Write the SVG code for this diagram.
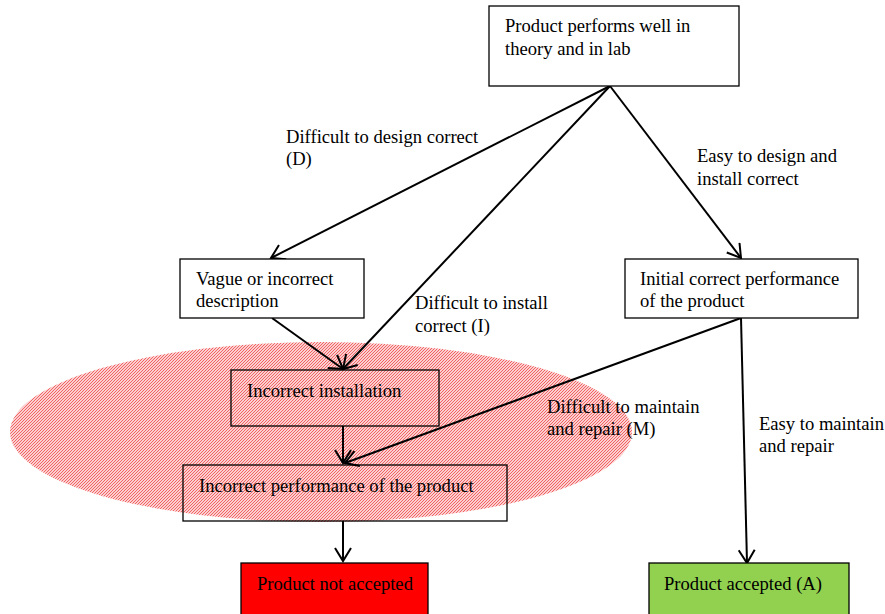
<svg xmlns="http://www.w3.org/2000/svg" width="885" height="614" viewBox="0 0 885 614">
<style>
text{font-family:"Liberation Serif","Times New Roman",serif;font-size:18.6px;fill:#000}
.box{fill:#fff;stroke:#000;stroke-width:1.3}
.clear{fill:none;stroke:#000;stroke-width:1.3}
.edge{fill:none;stroke:#000;stroke-width:2;marker-end:url(#arr)}
</style>
<defs>
<pattern id="hatch" width="3" height="3" patternUnits="userSpaceOnUse">
<rect width="3" height="3" fill="#fff"/>
<path d="M-1,1 L1,-1 M0,3 L3,0 M2,4 L4,2" stroke="#f25a5a" stroke-width="1.1"/>
</pattern>
<marker id="arr" markerWidth="18" markerHeight="18" refX="14" refY="9" orient="auto" markerUnits="userSpaceOnUse">
<path d="M1,1 L14,9 L1,17" fill="none" stroke="#000" stroke-width="2"/>
</marker>
</defs>
<ellipse cx="321" cy="432" rx="311" ry="90" fill="url(#hatch)"/>
<g id="connectors">
<line class="edge" x1="610" y1="86" x2="271" y2="258"/>
<line class="edge" x1="610" y1="86" x2="343" y2="369"/>
<line class="edge" x1="610" y1="86" x2="741" y2="258"/>
<line class="edge" x1="272" y1="318" x2="343" y2="369"/>
<line class="edge" x1="343" y1="426" x2="343" y2="463"/>
<line class="edge" x1="741" y1="318" x2="345" y2="463"/>
<line class="edge" x1="741" y1="318" x2="747" y2="563"/>
<line class="edge" x1="343" y1="521" x2="343" y2="561"/>
</g>
<g id="top">
<rect class="box" x="489" y="6" width="250" height="80"/>
<text x="505" y="32">Product performs well in</text>
<text x="505" y="55">theory and in lab</text>
</g>
<g id="vague">
<rect class="box" x="180" y="259" width="184" height="59"/>
<text x="196" y="285">Vague or incorrect</text>
<text x="196" y="307">description</text>
</g>
<g id="initial">
<rect class="box" x="625" y="259" width="233" height="59"/>
<text x="640" y="285">Initial correct performance</text>
<text x="640" y="307">of the product</text>
</g>
<g id="install">
<rect class="clear" x="231" y="370" width="208" height="56"/>
<text x="247" y="397">Incorrect installation</text>
</g>
<g id="perf">
<rect class="clear" x="183" y="465" width="324" height="56"/>
<text x="199" y="492">Incorrect performance of the product</text>
</g>
<g id="notaccepted">
<rect x="241" y="563" width="187" height="55" fill="#ff0000" stroke="#000" stroke-width="1.3"/>
<text x="257" y="590">Product not accepted</text>
</g>
<g id="accepted">
<rect x="649" y="563" width="200" height="55" fill="#92d050" stroke="#000" stroke-width="1.3"/>
<text x="664" y="590">Product accepted (A)</text>
</g>
<g id="labels">
<text x="286" y="143">Difficult to design correct</text>
<text x="286" y="165">(D)</text>
<text x="697" y="162">Easy to design and</text>
<text x="697" y="185">install correct</text>
<text x="415" y="309">Difficult to install</text>
<text x="415" y="332">correct (I)</text>
<text x="547" y="413">Difficult to maintain</text>
<text x="547" y="435">and repair (M)</text>
<text x="759" y="430">Easy to maintain</text>
<text x="759" y="452">and repair</text>
</g>
</svg>
